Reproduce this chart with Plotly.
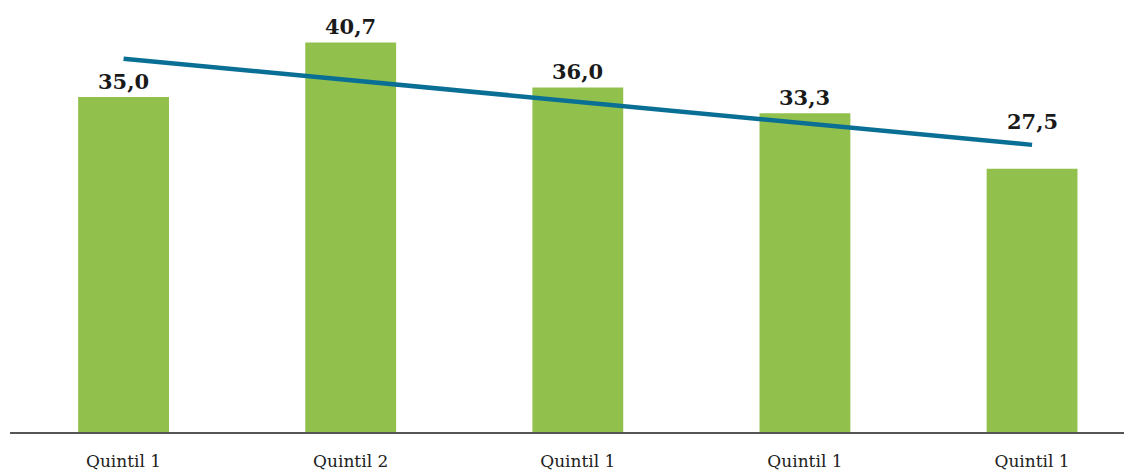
import plotly.graph_objects as go

categories = ["Quintil 1", "Quintil 2", "Quintil 1", "Quintil 1", "Quintil 1"]
values = [35.0, 40.7, 36.0, 33.3, 27.5]
value_labels = ["35,0", "40,7", "36,0", "33,3", "27,5"]
trend_x = [0, 4]
trend_y = [39.0, 30.0]
label_shift = [16, 16, 16, 16, 47]

x_pos = list(range(len(categories)))

fig = go.Figure()
fig.add_trace(go.Bar(
    x=x_pos, y=values, marker=dict(color="#92c04c", line=dict(width=0)),
    width=0.4, hoverinfo="skip", showlegend=False,
))
fig.add_trace(go.Scatter(
    x=trend_x, y=trend_y, mode="lines",
    line=dict(color="#0a6f95", width=4.5), hoverinfo="skip", showlegend=False,
))

for xi, v, lab, sh in zip(x_pos, values, value_labels, label_shift):
    fig.add_annotation(
        x=xi, y=v, text=lab, showarrow=False, yanchor="middle", yshift=sh,
        font=dict(family="DejaVu Serif", size=21, color="#1a1a1a", weight="bold"),
    )

fig.update_layout(
    width=1124, height=463,
    margin=dict(l=2, r=0, t=0, b=39),
    paper_bgcolor="white", plot_bgcolor="white",
    xaxis=dict(
        range=[-0.5, 4.44], tickmode="array", tickvals=x_pos, ticktext=categories,
        showgrid=False, zeroline=False, showline=True, linecolor="#555555", linewidth=2,
        ticks="", tickfont=dict(family="DejaVu Serif", size=17, color="#222222"),
        ticklabelstandoff=13,
    ),
    yaxis=dict(range=[0, 44.3], visible=False, showgrid=False, zeroline=False),
)

fig.write_html("out.html")
